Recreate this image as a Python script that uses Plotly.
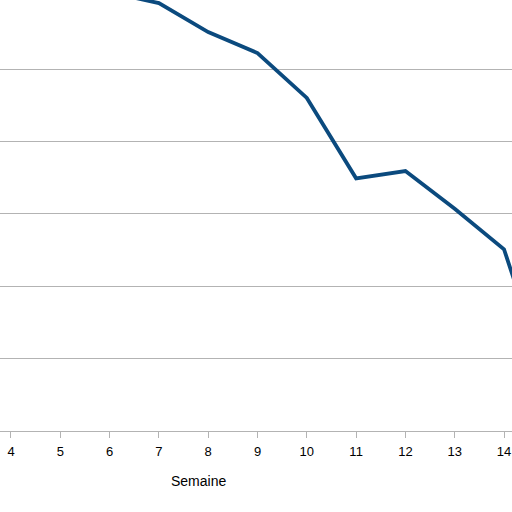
import plotly.graph_objects as go

semaine = [6, 7, 8, 9, 10, 11, 12, 13, 14, 15]
valeurs = [6.06, 5.91, 5.51, 5.22, 4.60, 3.49, 3.59, 3.07, 2.51, 0.45]
tick_vals = [4, 5, 6, 7, 8, 9, 10, 11, 12, 13, 14]

fig = go.Figure()
fig.add_trace(go.Scatter(x=semaine, y=valeurs, mode="lines",
                         line=dict(color="#0b4a7e", width=3.8), showlegend=False))

fig.update_layout(
    width=512, height=512,
    margin=dict(l=0, r=0, t=0, b=81, autoexpand=False),
    paper_bgcolor="white", plot_bgcolor="white",
    font=dict(family="Liberation Sans, Arial, sans-serif", size=13, color="#000000"),
    xaxis=dict(range=[3.777, 14.162], tickvals=tick_vals, showgrid=False,
               showline=True, linecolor="#b3b3b3", linewidth=1,
               ticks="outside", ticklen=6, tickcolor="#b3b3b3",
               tickfont=dict(size=13), zeroline=False, automargin=False,
               ticklabelstandoff=2),
    yaxis=dict(range=[0, 5.953], dtick=1, showgrid=True, gridcolor="#b3b3b3",
               gridwidth=1, showticklabels=False, zeroline=False, showline=False,
               automargin=False),
)
fig.add_annotation(text="Semaine", xref="paper", yref="paper",
                   x=198/512, y=(431-481)/431, xanchor="center", yanchor="middle",
                   showarrow=False, font=dict(size=14, color="#000000"))
fig.write_html("out.html", config={"displayModeBar": False},
               post_script="document.body.style.margin='0';document.body.style.overflow='hidden';")
